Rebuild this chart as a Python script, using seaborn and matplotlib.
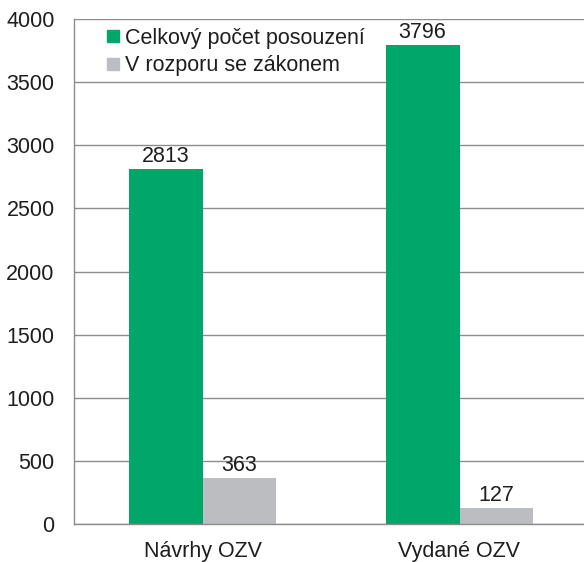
import pandas as pd
import matplotlib.pyplot as plt
import seaborn as sns
from matplotlib.lines import Line2D

sns.set_style("white")
plt.rcParams['font.family'] = ['Liberation Sans', 'DejaVu Sans']
plt.rcParams['font.size'] = 15.5
plt.rcParams['text.color'] = '#1e1e1e'
plt.rcParams['xtick.color'] = '#1e1e1e'
plt.rcParams['ytick.color'] = '#1e1e1e'

# Data
categories = ['Návrhy OZV', 'Vydané OZV']
series_names = ['Celkový počet posouzení', 'V rozporu se zákonem']
celkem = [2813, 3796]
v_rozporu = [363, 127]
colors = ['#00A66A', '#BCBDC0']

df = pd.DataFrame({
    'Kategorie': categories * 2,
    'Série': [series_names[0]] * 2 + [series_names[1]] * 2,
    'Počet': celkem + v_rozporu,
})

fig = plt.figure(figsize=(5.84, 5.62), dpi=100)
ax = fig.add_axes([74 / 584, 38 / 562, 514 / 584, 505 / 562])

sns.barplot(data=df, x='Kategorie', y='Počet', hue='Série', order=categories,
            hue_order=series_names, palette=colors, width=0.575, saturation=1,
            linewidth=0, ax=ax, legend=False)

# popisky hodnot
for cont in ax.containers:
    ax.bar_label(cont, padding=1.5, fontsize=15.5, color='#1e1e1e')

ax.set_ylim(0, 4000)
ax.set_xlim(-0.5, 1.5)
ax.set_yticks(range(0, 4001, 500))
ax.yaxis.grid(True, color='#8c8c8c', linewidth=1)
ax.set_axisbelow(True)
ax.set_xlabel('')
ax.set_ylabel('')

for s in ['top', 'right']:
    ax.spines[s].set_visible(False)
for s in ['left', 'bottom']:
    ax.spines[s].set_color('#8c8c8c')
    ax.spines[s].set_linewidth(1)

ax.tick_params(axis='y', length=6, color='#8c8c8c', width=1, labelsize=15.5,
               labelcolor='#1e1e1e', pad=8)
ax.tick_params(axis='x', length=0, labelsize=15.5, labelcolor='#1e1e1e', pad=12)
ax.set_xticks([-0.5, 0.5, 1.5], minor=True)
ax.tick_params(axis='x', which='minor', length=6, color='#8c8c8c', width=1, direction='out')

handles = [Line2D([0], [0], marker='s', linestyle='none', markersize=9,
                  markerfacecolor=c, markeredgecolor=c) for c in colors]
ax.legend(handles, series_names, loc='upper left', bbox_to_anchor=(0.047, 1.0),
          frameon=False, handlelength=0.6, handletextpad=0.25, labelspacing=0.3,
          fontsize=15.5, borderaxespad=0.0)

fig.savefig('out.png', dpi=100)
